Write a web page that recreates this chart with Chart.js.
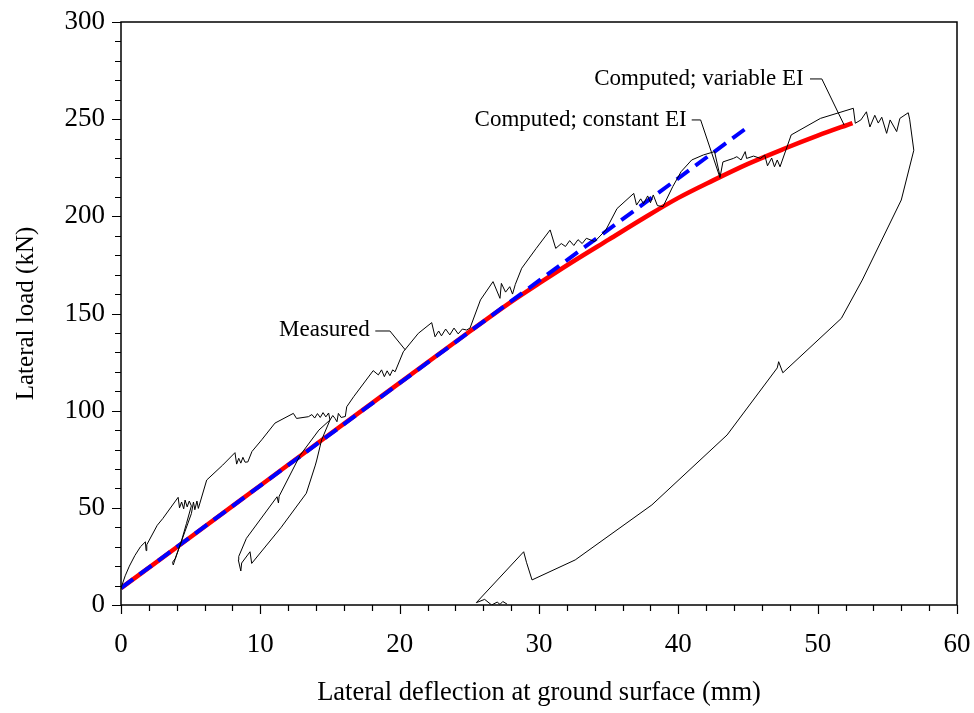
<!DOCTYPE html>
<html>
<head>
<meta charset="utf-8">
<script src="https://cdn.jsdelivr.net/npm/chart.js"></script>
<style>
  html, body { margin: 0; padding: 0; background: #fff; }
  #wrap { width: 974px; height: 713px; }
</style>
</head>
<body>
<div id="wrap"><canvas id="chart" width="974" height="713"></canvas></div>
<script>
// Measured load-deflection curve (mm, kN)
const measured = [
  [0, 8.7], [0.3, 15], [0.6, 20], [1.0, 25.5], [1.4, 30], [1.75, 32.5], [1.8, 28], [1.85, 31],
  [2.6, 41], [3.0, 44.5], [4.1, 55.4], [4.2, 50], [4.35, 53], [4.5, 49.5], [4.6, 54], [4.75, 50.5],
  [4.9, 53.5], [5.05, 51],
  [4.7, 42], [4.3, 32], [3.9, 24], [3.7, 22], [3.75, 20.6],
  [4.0, 26], [4.6, 38], [5.05, 47], [5.2, 53], [5.3, 49], [5.45, 53.5], [5.55, 49.7],
  [6.15, 64.3], [7.3, 72], [8.18, 78.4], [8.3, 72.5], [8.45, 75.5], [8.6, 73], [8.75, 76], [8.9, 73.5],
  [9.1, 73.6], [9.4, 79], [10.1, 85], [11.05, 93.6], [12.37, 98.6], [12.6, 96], [13.45, 96.9],
  [13.7, 98], [13.9, 96.2], [14.1, 98.5], [14.3, 96.5], [14.5, 99], [14.7, 96.8], [14.9, 98.8], [15.0, 95.2],
  [14.4, 85], [14.05, 74.6], [13.95, 72], [13.3, 57.5], [11.5, 40], [9.38, 21.4], [9.26, 27.4],
  [8.66, 21.6], [8.6, 17.5], [8.42, 23.2], [8.45, 25],
  [9.0, 34.3], [11.2, 55.7], [11.3, 52.5], [11.35, 56], [12.85, 77], [14.2, 90], [15.0, 95.2],
  [15.2, 97.5], [15.36, 96], [15.5, 94.3], [15.6, 98.6], [15.8, 96.5], [16.1, 97], [16.2, 102],
  [16.7, 107.2], [18.1, 120.6], [18.47, 118.4], [18.7, 121], [18.9, 117.5], [19.1, 120.5], [19.3, 118],
  [19.5, 121], [19.67, 120], [20.26, 130.3], [21.34, 139.8], [22.3, 145.3], [22.54, 138], [22.8, 141],
  [23.0, 138.5], [23.3, 142], [23.6, 139], [23.9, 142.5], [24.2, 139.5], [24.5, 142], [24.8, 141.5],
  [25.05, 142.5], [25.8, 157], [26.7, 166.4], [27.2, 157.8], [27.3, 165.5], [27.6, 161], [27.9, 163.8],
  [28.1, 160], [28.3, 165], [28.76, 173.3], [29.8, 183.5], [30.8, 193], [31.2, 183.5], [31.6, 186],
  [31.9, 184.5], [32.2, 187.5], [32.5, 185], [32.8, 188], [33.1, 186], [33.4, 188.7], [34.0, 187],
  [34.8, 193], [35.6, 204], [36.8, 211.8], [37.0, 205.8], [37.3, 209], [37.5, 206.5], [37.8, 210.5],
  [38.0, 207], [38.2, 211], [38.5, 205.5], [38.9, 205], [39.6, 215.3], [40.2, 223], [40.96, 229],
  [41.8, 231.6], [42.6, 233.3], [43.0, 220.4], [43.2, 228], [43.95, 229.8], [44.2, 230.7], [44.5, 229],
  [44.8, 233.3], [44.9, 229.8], [45.4, 231], [45.9, 229.8], [46.2, 231.5], [46.4, 226], [46.7, 230],
  [46.9, 225.5], [47.1, 229], [47.3, 225.5], [48.1, 241.9], [50.2, 250.4], [52.56, 255.6], [52.7, 247.9],
  [53.1, 249.6], [53.5, 253.8], [53.75, 246], [54.1, 252], [54.35, 248], [54.6, 251], [54.95, 242.7],
  [55.2, 249.6], [55.67, 243.6], [55.9, 250.4], [56.5, 253.3], [56.6, 250], [56.9, 234],
  [56.0, 208.4], [53.2, 167.2], [51.7, 147.5], [47.5, 119.5], [47.2, 125.2], [47.1, 122], [43.5, 87.5],
  [38.1, 51.5], [32.6, 23.2], [29.5, 12.9], [29.1, 22], [28.9, 27.4], [25.5, 1.2], [26.1, 2.9],
  [26.6, 0], [27.0, 1.5], [27.2, 0.3], [27.4, 1.8], [27.7, 0.5]
];

// Computed curves
const variableEI = [
  [0, 8.7], [5, 35], [10, 61.5], [15, 88], [20, 114.3], [25, 140.6], [28, 156], [30, 165.5],
  [32.5, 177], [35, 188], [37.5, 199], [40, 209.5], [42.5, 218.5], [45, 227], [47.5, 234.5],
  [50, 241.5], [52.5, 248]
];
const constantEI = [[0, 8.7], [45, 246]];

// Labels with their leader lines (data coordinates)
const notes = [
  { text: 'Measured', at: [17.85, 141.5], leader: [[18.25, 141], [19.3, 141], [20.4, 131.3]] },
  { text: 'Computed; constant EI', at: [40.6, 249.6], leader: [[40.96, 249.6], [41.6, 249.6], [43, 219.7]] },
  { text: 'Computed; variable EI', at: [49.0, 270.7], leader: [[49.45, 270.7], [50.3, 270.7], [51.9, 247]] }
];

const xMajor = 10, xMinor = 2, yMajor = 50, yMinor = 10;
const FONT = '"Liberation Serif", "Times New Roman", serif';

const toXY = arr => arr.map(p => ({ x: p[0], y: p[1] }));

// Frame, outward tick marks and annotations
const framePlugin = {
  id: 'frame',
  afterDraw(chart) {
    const { ctx, chartArea: a, scales: { x, y } } = chart;
    ctx.save();
    ctx.strokeStyle = '#000';
    ctx.lineWidth = 1.5;
    ctx.strokeRect(a.left, a.top, a.right - a.left, a.bottom - a.top);
    ctx.beginPath();
    for (let v = x.min; v <= x.max + 1e-9; v += xMinor) {
      const px = Math.round(x.getPixelForValue(v)) + 0.5;
      const len = Math.abs(v % xMajor) < 1e-9 ? 9 : 6;
      ctx.moveTo(px, a.bottom);
      ctx.lineTo(px, a.bottom + len);
    }
    for (let v = y.min; v <= y.max + 1e-9; v += yMinor) {
      const py = Math.round(y.getPixelForValue(v)) + 0.5;
      const len = Math.abs(v % yMajor) < 1e-9 ? 9 : 6;
      ctx.moveTo(a.left, py);
      ctx.lineTo(a.left - len, py);
    }
    ctx.lineWidth = 1.2;
    ctx.stroke();

    ctx.font = '23px ' + FONT;
    ctx.fillStyle = '#000';
    ctx.textAlign = 'right';
    ctx.textBaseline = 'middle';
    ctx.lineWidth = 1;
    notes.forEach(n => {
      ctx.fillText(n.text, x.getPixelForValue(n.at[0]), y.getPixelForValue(n.at[1]));
      ctx.beginPath();
      n.leader.forEach((p, i) => {
        const px = x.getPixelForValue(p[0]), py = y.getPixelForValue(p[1]);
        if (i === 0) ctx.moveTo(px, py); else ctx.lineTo(px, py);
      });
      ctx.stroke();
    });
    ctx.restore();
  }
};

new Chart(document.getElementById('chart'), {
  type: 'scatter',
  data: {
    datasets: [
      {
        label: 'Measured',
        data: toXY(measured),
        showLine: true,
        borderColor: '#000',
        borderWidth: 1,
        pointRadius: 0,
        order: 0
      },
      {
        label: 'Computed; constant EI',
        data: toXY(constantEI),
        showLine: true,
        borderColor: '#0000ff',
        borderWidth: 4,
        borderDash: [15, 8],
        pointRadius: 0,
        order: 1
      },
      {
        label: 'Computed; variable EI',
        data: toXY(variableEI),
        showLine: true,
        borderColor: '#ff0000',
        borderWidth: 4.5,
        cubicInterpolationMode: 'monotone',
        pointRadius: 0,
        order: 2
      }
    ]
  },
  options: {
    responsive: false,
    animation: false,
    layout: { padding: { top: 22, right: 17, left: 0, bottom: 0 } },
    plugins: {
      legend: { display: false },
      tooltip: { enabled: false }
    },
    scales: {
      x: {
        type: 'linear',
        min: 0,
        max: 60,
        afterFit: s => { s.height = 108; s.paddingLeft = 0; s.paddingRight = 0; },
        grid: { display: false, drawTicks: false },
        border: { display: false },
        ticks: {
          stepSize: xMajor,
          padding: 24,
          color: '#000',
          font: { family: FONT, size: 27 }
        },
        title: {
          display: true,
          text: 'Lateral deflection at ground surface (mm)',
          color: '#000',
          font: { family: FONT, size: 26.5 },
          padding: { bottom: 4 }
        }
      },
      y: {
        type: 'linear',
        min: 0,
        max: 300,
        afterFit: s => { s.width = 121; s.paddingTop = 0; s.paddingBottom = 0; },
        grid: { display: false, drawTicks: false },
        border: { display: false },
        ticks: {
          stepSize: yMajor,
          padding: 16,
          color: '#000',
          font: { family: FONT, size: 27 }
        },
        title: {
          display: true,
          text: 'Lateral load (kN)',
          color: '#000',
          font: { family: FONT, size: 25 },
          padding: { top: 11 }
        }
      }
    }
  },
  plugins: [framePlugin]
});
</script>
</body>
</html>
